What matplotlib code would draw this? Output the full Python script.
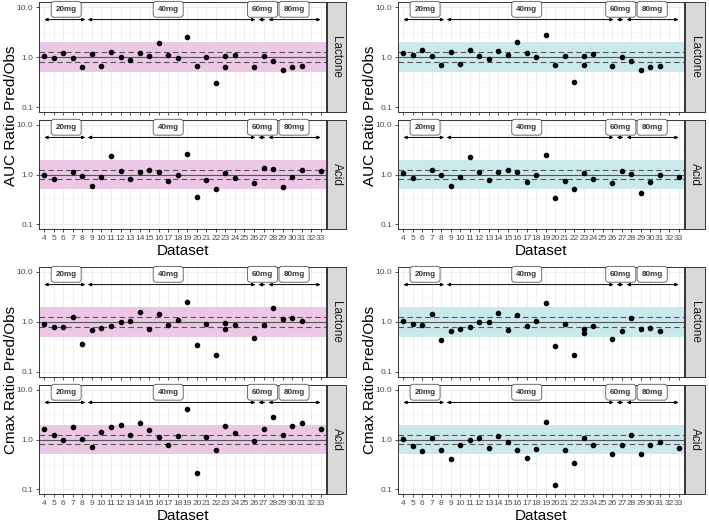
import numpy as np
import matplotlib
matplotlib.use('Agg')
from matplotlib import pyplot as plt


plt.rcParams['font.family'] = ['Liberation Sans', 'DejaVu Sans']

# dataset ids on the x axis
datasets = list(range(4, 34))

# x positions of each series (23 has two lactone points)
lac_x = [4,5,6,7,8,9,10,11,12,13,14,15,16,17,18,19,20,21,22,23,23,24,26,27,28,29,30,31]
auc_acid_x = [4,5,7,8,9,10,11,12,13,14,15,16,17,18,19,20,21,22,23,24,26,27,28,29,30,31,33]
cmax_acid_x = [4,5,6,7,8,9,10,11,12,13,14,15,16,17,18,19,20,21,22,23,24,26,27,28,29,30,31,33]

# AUC ratio, left (pink) and right (cyan) panels
auc_lac_left = [1.03,0.94,1.2,0.94,0.62,1.15,0.67,1.27,0.98,0.87,1.2,1.03,1.9,1.1,0.96,2.56,0.65,0.98,0.30,1.05,0.64,1.08,0.62,1.06,0.82,0.55,0.63,0.67]
auc_lac_right = [1.18,1.1,1.37,1.06,0.70,1.24,0.72,1.35,1.03,0.93,1.3,1.11,1.98,1.18,1.02,2.77,0.68,1.05,0.32,1.06,0.68,1.15,0.65,1.0,0.83,0.55,0.63,0.67]
auc_acid_left = [1.0,0.8,1.13,0.95,0.59,0.87,2.37,1.15,0.8,1.11,1.26,1.13,0.73,0.98,2.56,0.35,0.76,0.51,1.06,0.86,0.66,1.36,1.3,0.56,0.91,1.26,1.17]
auc_acid_right = [1.08,0.86,1.22,1.0,0.58,0.87,2.3,1.13,0.77,1.1,1.26,1.11,0.71,0.97,2.49,0.34,0.75,0.51,1.06,0.83,0.66,1.2,1.02,0.43,0.71,0.97,0.9]

# Cmax ratio
cmax_lac_left = [0.93,0.79,0.78,1.28,0.37,0.68,0.75,0.83,1.02,1.03,1.56,0.72,1.42,0.86,1.1,2.47,0.35,0.93,0.22,0.95,0.74,0.87,0.47,0.88,1.93,1.13,1.22,1.06]
cmax_lac_right = [1.05,0.93,0.88,1.47,0.43,0.67,0.72,0.79,0.98,0.98,1.51,0.70,1.38,0.83,1.06,2.36,0.33,0.91,0.22,0.71,0.59,0.83,0.45,0.67,1.22,0.71,0.77,0.67]
cmax_acid_left = [1.65,1.24,0.97,1.76,1.03,0.70,1.4,1.78,1.93,1.24,2.14,1.58,1.11,0.77,1.16,4.06,0.21,1.11,0.60,1.87,1.36,0.94,1.63,2.9,1.22,1.87,2.11,1.65]
cmax_acid_right = [1.03,0.74,0.58,1.06,0.62,0.40,0.78,0.98,1.06,0.68,1.2,0.87,0.62,0.43,0.65,2.28,0.12,0.62,0.34,1.06,0.76,0.52,0.78,1.22,0.5,0.78,0.87,0.68]

# dose groups
dose_labels = ['20mg', '40mg', '60mg', '80mg']
dose_start = [4, 8.56, 26.45, 27.5]
dose_end = [8.32, 26.16, 27.2, 33]
dose_label_x = [6.3, 17.0, 26.9, 30.2]

W, H = 709, 522
fig = plt.figure(figsize=(W/100, H/100), dpi=100)


def rect(l, t, r, b):
    return [l/W, (H-b)/H, (r-l)/W, (b-t)/H]


def draw_panel(box, xs, ys, band_col, strip_txt, strip_box, show_x):
    ax = fig.add_axes(rect(*box))
    ax.set_yscale('log')
    ax.set_ylim(10**-1.1, 10**1.1)
    ax.set_xlim(3.45, 33.55)

    # ggplot-ish grid
    for x in datasets:
        ax.axvline(x, color='#ebebeb', lw=0.6, zorder=0)
    for y in [0.1, 1, 10]:
        ax.axhline(y, color='#ebebeb', lw=0.6, zorder=0)
    for y in [10**-0.5, 10**0.5]:
        ax.axhline(y, color='#f4f4f4', lw=0.4, zorder=0)

    ax.axhspan(0.5, 2.0, color=band_col, lw=0, zorder=1)
    ax.axhline(1.0, color='#555555', lw=0.8, zorder=2)
    ax.axhline(1.25, color='#555555', lw=0.8, ls=(0, (5, 3)), zorder=2)
    ax.axhline(0.8, color='#555555', lw=0.8, ls=(0, (5, 3)), zorder=2)

    ax.plot(xs, ys, 'o', color='black', ms=3.0, zorder=4)

    for i in range(len(dose_labels)):
        ax.annotate('', xy=(dose_end[i], 5.6), xytext=(dose_start[i], 5.6),
                    arrowprops=dict(arrowstyle='<|-|>,head_length=0.2,head_width=0.09',
                                    color='black', lw=0.7, shrinkA=0, shrinkB=0),
                    zorder=5)
        ax.text(dose_label_x[i], 9.0, dose_labels[i], fontsize=5.8, fontweight='bold',
                ha='center', va='center', color='#333333', zorder=6,
                bbox=dict(boxstyle='round,pad=0.55,rounding_size=0.35', fc='white',
                          ec='#555555', lw=0.6))

    ax.set_yticks([0.1, 1, 10])
    ax.set_yticklabels(['0.1', '1.0', '10.0'])
    ax.minorticks_off()
    ax.set_xticks(datasets)
    if show_x:
        ax.set_xticklabels([str(d) for d in datasets])
    else:
        ax.set_xticklabels([])
        ax.tick_params(axis='x', length=0)
    ax.tick_params(labelsize=6, labelcolor='#4d4d4d', color='#333333',
                   length=2.5, width=0.6, pad=1.5)
    for s in ax.spines.values():
        s.set_color('#333333')
        s.set_linewidth(0.7)

    sax = fig.add_axes(rect(*strip_box))
    sax.set_xticks([])
    sax.set_yticks([])
    sax.set_facecolor('#d9d9d9')
    for s in sax.spines.values():
        s.set_color('#333333')
        s.set_linewidth(0.7)
    sax.text(0.5, 0.5, strip_txt, rotation=-90, ha='center', va='center',
             fontsize=8.5, color='#1a1a1a', transform=sax.transAxes)
    return ax


pink = '#ecc8e6'
cyan = '#c9e9ed'

groups = [
    # (left, right, strip l, strip r, top of lactone, band, ylabel, lac, acid_x, acid)
    (39, 326, 327, 346, 2, pink, 'AUC Ratio Pred/Obs', auc_lac_left, auc_acid_x, auc_acid_left),
    (398, 684, 685, 705, 2, cyan, 'AUC Ratio Pred/Obs', auc_lac_right, auc_acid_x, auc_acid_right),
    (39, 326, 327, 346, 267, pink, 'Cmax Ratio Pred/Obs', cmax_lac_left, cmax_acid_x, cmax_acid_left),
    (398, 684, 685, 705, 267, cyan, 'Cmax Ratio Pred/Obs', cmax_lac_right, cmax_acid_x, cmax_acid_right),
]

for l, r, sl, sr, t, band, ylab, lac, ax_x, acid in groups:
    b1 = t + 110
    t2 = b1 + 8
    b2 = t2 + 109
    draw_panel((l, t, r, b1), lac_x, lac, band, 'Lactone', (sl, t, sr, b1), False)
    draw_panel((l, t2, r, b2), ax_x, acid, band, 'Acid', (sl, t2, sr, b2), True)
    fig.text((l - 28)/W, 1 - ((t + b2)/2)/H, ylab, rotation=90, ha='center',
             va='center', fontsize=11)
    fig.text(((l + r)/2)/W, 1 - (b2 + 22)/H, 'Dataset', ha='center', va='center',
             fontsize=11)

fig.savefig('out.png', dpi=100)
